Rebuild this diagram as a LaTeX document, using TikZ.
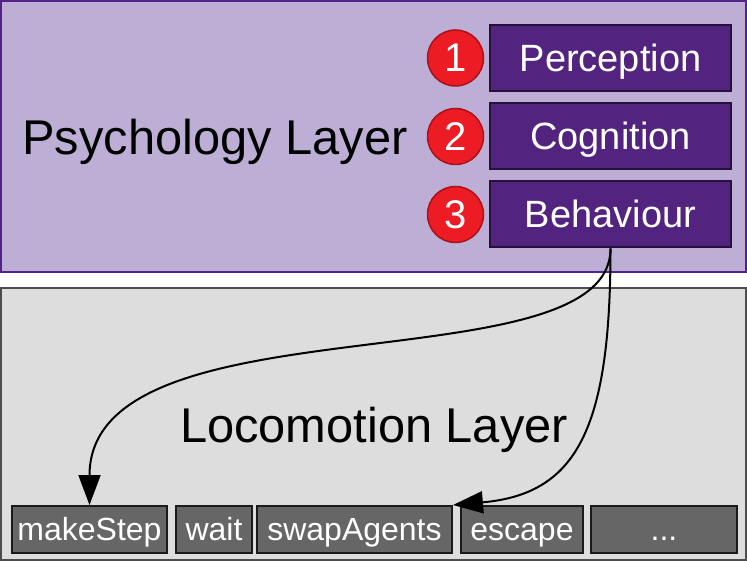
\documentclass[tikz,border=0pt]{standalone}
\usepackage{fontspec}
\setmainfont{Liberation Sans}
\usepackage{tikz}
\usetikzlibrary{arrows.meta,positioning}
\usepackage{xcolor}
\definecolor{psyfill}{RGB}{189,174,213}
\definecolor{psyline}{RGB}{85,33,138}
\definecolor{stagefill}{RGB}{82,36,127}
\definecolor{stageline}{RGB}{38,16,60}
\definecolor{numred}{RGB}{237,28,36}
\definecolor{numline}{RGB}{170,18,26}
\definecolor{locofill}{RGB}{221,221,221}
\definecolor{locoline}{RGB}{77,77,77}
\definecolor{actfill}{RGB}{102,102,102}
\definecolor{actline}{RGB}{26,26,26}
\tikzstyle{layer} = [font=\fontsize{48.8}{56}\selectfont, text height=35pt, text depth=0pt]
\tikzstyle{stage} = [draw=stageline, fill=stagefill, line width=2pt, minimum width=241pt, minimum height=66pt, inner sep=0pt, text=white, font=\fontsize{38}{44}\selectfont, text height=27pt, text depth=0pt]
\tikzstyle{num} = [circle, draw=numline, fill=numred, line width=1.5pt, minimum size=56pt, inner sep=0pt, text=white, font=\fontsize{40}{46}\selectfont, text height=28pt, text depth=0pt]
\tikzstyle{action} = [draw=actline, fill=actfill, line width=2pt, minimum height=47pt, inner sep=0pt, text=white, font=\fontsize{32}{38}\selectfont, text height=21pt, text depth=0pt]
\tikzstyle{arrow} = [line width=2pt, -{Triangle[length=30pt,width=22pt]}]

\begin{document}
\begin{tikzpicture}[x=1pt, y=-1pt]
\useasboundingbox (0,0) rectangle (747,561);

% Psychology layer
\draw[line width=2pt, draw=psyline, fill=psyfill] (1,1) rectangle (746,272);
\node[layer] (psy) at (215,137.5) {Psychology Layer};

\node[stage] (perc) at (610.5,58) {Perception};
\node[stage] (cogn) at (610.5,136.5) {Cognition};
\node[stage] (beha) at (610.5,214.5) {Behaviour};

\node[num] (n1) at (455.5,58) {1};
\node[num] (n2) at (455.5,136.5) {2};
\node[num] (n3) at (455.5,214.5) {3};

% Locomotion layer
\draw[line width=2pt, draw=locoline, fill=locofill] (1,288) rectangle (746,560);
\node[layer] (loco) at (374,424.5) {Locomotion Layer};

\node[action, minimum width=155pt] (mstep) at (89.5,529.5) {makeStep};
\node[action, minimum width=76pt] (wait) at (214,529.5) {wait};
\node[action, minimum width=195pt] (swap) at (354.5,529.5) {swapAgents};
\node[action, minimum width=122pt] (esc) at (522,529.5) {escape};
\node[action, minimum width=146pt] (more) at (664,529.5) {...};

% Calls
\draw[arrow] (beha.south) .. controls +(0,140) and +(0,-210) .. (mstep.north);
\draw[arrow] (beha.south) .. controls +(0,182) and +(123,-11) .. (swap.north east);
\end{tikzpicture}
\end{document}
